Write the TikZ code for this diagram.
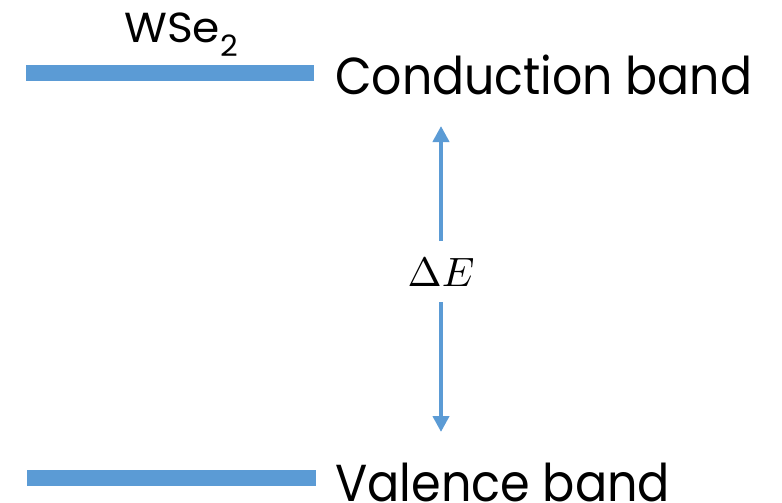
\documentclass[tikz,border=0pt]{standalone}
\usepackage{fontspec}
\setmainfont{Poppins}
\usetikzlibrary{arrows.meta}
\definecolor{bandblue}{HTML}{5B9BD5}
\tikzset{
  band/.style={draw=bandblue, line width=16pt},
  gaparrow/.style={draw=bandblue, line width=4pt, -{Triangle[width=16pt,length=16pt]}},
  lbl/.style={inner sep=0pt, anchor=base west, text=black}
}
\begin{document}
\begin{tikzpicture}[x=1pt,y=-1pt]
\useasboundingbox (0,0) rectangle (782,503);
\coordinate (cbL) at (26,73);
\coordinate (cbR) at (314,73);
\coordinate (vbL) at (27,478);
\coordinate (vbR) at (316,478);
\draw[band] (cbL) -- (cbR);
\draw[band] (vbL) -- (vbR);
\node[lbl] (wse) at (124,43) {\resizebox{114pt}{\height}{\fontsize{42}{48}\selectfont WSe\textsubscript{2}}};
\node[lbl] (cb) at (335,95) {\resizebox{417pt}{\height}{\fontsize{52}{60}\selectfont Conduction band}};
\node[lbl] (vb) at (335,501) {\resizebox{335pt}{\height}{\fontsize{52}{60}\selectfont Valence band}};
\node[inner sep=0pt] (de) at (441,272) {\scalebox{4.1}{$\Delta E$}};
\coordinate (top) at (441,126);
\coordinate (bot) at (441,432);
\coordinate (deT) at (441,241);
\coordinate (deB) at (441,302);
\draw[gaparrow] (deT) -- (top);
\draw[gaparrow] (deB) -- (bot);
\end{tikzpicture}
\end{document}
